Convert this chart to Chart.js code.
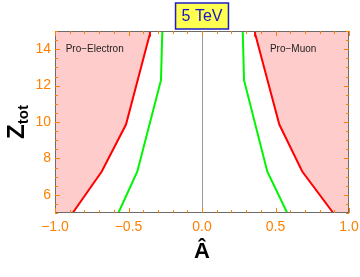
<!DOCTYPE html>
<html>
<head>
<meta charset="utf-8">
<script src="https://cdn.jsdelivr.net/npm/chart.js@4.4.0/dist/chart.umd.min.js"></script>
<style>
  html, body { margin: 0; padding: 0; background: #ffffff; }
  #wrap { width: 360px; height: 277px; position: relative; }
</style>
</head>
<body>
<div id="wrap"><canvas id="c" width="360" height="277"></canvas></div>
<script>
// ---- data ----
const titleText = "5 TeV";
const xTickValues = [-1, -0.5, 0, 0.5, 1];
const yTickValues = [6, 8, 10, 12, 14];
const xRange = [-1, 1];
const zRange = [5, 15];

const zRed = [5, 7.28, 9.86, 14.74, 15];
const redLeft = [-0.880, -0.682, -0.517, -0.358, -0.354];
const redRight = [0.893, 0.682, 0.526, 0.365, 0.361];

const zGreen = [5, 7.28, 12.3, 15];
const greenLeft = [-0.569, -0.440, -0.279, -0.270];
const greenRight = [0.580, 0.444, 0.286, 0.277];

const regionLabels = ["Pro\u2212Electron", "Pro\u2212Muon"];
const regionLabelX = [-0.73, 0.62];
const regionLabelZ = [14, 14];

// ---- helpers ----
const pts = (xs, zs) => xs.map((x, i) => ({ x: x, y: zs[i] }));
const leftRegion = [{ x: xRange[0], y: zRange[0] }]
  .concat(pts(redLeft, zRed))
  .concat([{ x: xRange[0], y: zRange[1] }]);
const rightRegion = [{ x: xRange[1], y: zRange[0] }]
  .concat(pts(redRight, zRed))
  .concat([{ x: xRange[1], y: zRange[1] }]);

const ORANGE = 'rgb(255,128,0)';
const PINK = 'rgb(255,204,204)';
const FRAME = '#6b6b6b';
const fmtX = v => (v < 0 ? '\u2212' : '') + Math.abs(v).toFixed(1);

const decor = {
  id: 'decor',
  beforeDatasetsDraw(chart) {
    const { ctx, chartArea: a, scales: { x, y } } = chart;
    ctx.save();
    ctx.strokeStyle = '#9a9a9a';
    ctx.lineWidth = 1;
    const x0 = Math.round(x.getPixelForValue(0)) + 0.5;
    ctx.beginPath(); ctx.moveTo(x0, a.top); ctx.lineTo(x0, a.bottom); ctx.stroke();
    ctx.restore();
  },
  afterDatasetsDraw(chart) {
    const { ctx, chartArea: a, scales: { x, y } } = chart;
    ctx.save();
    // region labels
    ctx.fillStyle = '#222';
    ctx.font = '10px "Liberation Sans", Arial, sans-serif';
    ctx.textAlign = 'center'; ctx.textBaseline = 'middle';
    regionLabels.forEach((t, i) => {
      ctx.fillText(t, x.getPixelForValue(regionLabelX[i]), y.getPixelForValue(regionLabelZ[i]));
    });
    // frame
    ctx.strokeStyle = FRAME; ctx.lineWidth = 1;
    ctx.strokeRect(Math.round(a.left) + 0.5, Math.round(a.top) + 0.5,
      Math.round(a.right - a.left) - 1, Math.round(a.bottom - a.top) - 1);
    // inward ticks
    ctx.strokeStyle = ORANGE; ctx.lineWidth = 1;
    for (let k = 0; k <= 20; k++) {
      const v = xRange[0] + k * 0.1;
      const major = k % 5 === 0;
      const len = major ? 5 : 3;
      const px = Math.round(x.getPixelForValue(v)) + 0.5;
      ctx.beginPath();
      ctx.moveTo(px, a.bottom); ctx.lineTo(px, a.bottom - len);
      ctx.moveTo(px, a.top); ctx.lineTo(px, a.top + len);
      ctx.stroke();
    }
    for (let k = 0; k <= 20; k++) {
      const v = zRange[0] + k * 0.5;
      const major = (k % 2 === 0) && (v % 2 === 0);
      const len = major ? 5 : 3;
      const py = Math.round(y.getPixelForValue(v)) + 0.5;
      ctx.beginPath();
      ctx.moveTo(a.left, py); ctx.lineTo(a.left + len, py);
      ctx.moveTo(a.right, py); ctx.lineTo(a.right - len, py);
      ctx.stroke();
    }
    ctx.restore();
  },
  afterDraw(chart) {
    const { ctx, chartArea: a } = chart;
    ctx.save();
    // title box
    const cx = (a.left + a.right) / 2;
    ctx.font = '16px "Liberation Sans", Arial, sans-serif';
    const w = ctx.measureText(titleText).width + 12;
    ctx.fillStyle = 'rgb(255,255,80)';
    ctx.fillRect(cx - w / 2, 3, w, 26);
    ctx.strokeStyle = 'rgb(30,30,200)'; ctx.lineWidth = 1.5;
    ctx.strokeRect(cx - w / 2, 3, w, 26);
    ctx.fillStyle = 'rgb(20,20,200)';
    ctx.textAlign = 'center'; ctx.textBaseline = 'middle';
    ctx.fillText(titleText, cx, 16.5);
    // y-axis label Z_tot
    const cy = (a.top + a.bottom) / 2;
    ctx.translate(15, cy);
    ctx.rotate(-Math.PI / 2);
    ctx.fillStyle = '#000';
    ctx.textBaseline = 'alphabetic'; ctx.textAlign = 'left';
    ctx.font = 'bold 24px "Liberation Sans", Arial, sans-serif';
    const zw = ctx.measureText('Z').width;
    ctx.font = 'bold 15px "Liberation Sans", Arial, sans-serif';
    const tw = ctx.measureText('tot').width;
    const start = -(zw + tw) / 2;
    ctx.font = 'bold 24px "Liberation Sans", Arial, sans-serif';
    ctx.fillText('Z', start, 9);
    ctx.font = 'bold 15px "Liberation Sans", Arial, sans-serif';
    ctx.fillText('tot', start + zw, 13);
    ctx.restore();
  }
};

new Chart(document.getElementById('c'), {
  type: 'scatter',
  data: {
    datasets: [
      { data: pts(redLeft, zRed), showLine: true, borderColor: 'rgb(255,0,0)', borderWidth: 2, pointRadius: 0, order: 1 },
      { data: pts(redRight, zRed), showLine: true, borderColor: 'rgb(255,0,0)', borderWidth: 2, pointRadius: 0, order: 1 },
      { data: pts(greenLeft, zGreen), showLine: true, borderColor: 'rgb(0,245,0)', borderWidth: 2, pointRadius: 0, order: 1 },
      { data: pts(greenRight, zGreen), showLine: true, borderColor: 'rgb(0,245,0)', borderWidth: 2, pointRadius: 0, order: 1 },
      { data: leftRegion, showLine: true, fill: 'shape', backgroundColor: PINK, borderWidth: 0, borderColor: 'rgba(0,0,0,0)', pointRadius: 0, order: 2 },
      { data: rightRegion, showLine: true, fill: 'shape', backgroundColor: PINK, borderWidth: 0, borderColor: 'rgba(0,0,0,0)', pointRadius: 0, order: 2 }
    ]
  },
  options: {
    responsive: false,
    animation: false,
    layout: { padding: { left: 0, right: 11, top: 31, bottom: 0 } },
    plugins: { legend: { display: false }, tooltip: { enabled: false }, title: { display: false } },
    scales: {
      x: {
        type: 'linear', min: xRange[0], max: xRange[1],
        grid: { display: false, drawTicks: false }, border: { display: false },
        afterBuildTicks: s => { s.ticks = xTickValues.map(v => ({ value: v })); },
        afterFit: s => { s.height = 64; s.paddingLeft = 0; s.paddingRight = 0; },
        ticks: { color: ORANGE, padding: 6, maxRotation: 0, autoSkip: false,
          font: { size: 14, family: '"Liberation Sans", Arial, sans-serif' },
          callback: v => fmtX(v) },
        title: { display: true, text: '\u00C2', color: '#000', padding: { top: 0, bottom: 12 },
          font: { size: 22, weight: 'bold', family: '"Liberation Sans", Arial, sans-serif' } }
      },
      y: {
        type: 'linear', min: zRange[0], max: zRange[1],
        grid: { display: false, drawTicks: false }, border: { display: false },
        afterBuildTicks: s => { s.ticks = yTickValues.map(v => ({ value: v })); },
        afterFit: s => { s.width = 55; s.paddingTop = 0; s.paddingBottom = 0; },
        ticks: { color: ORANGE, padding: 4, autoSkip: false,
          font: { size: 14, family: '"Liberation Sans", Arial, sans-serif' },
          callback: v => String(v) }
      }
    }
  },
  plugins: [decor]
});
</script>
</body>
</html>
